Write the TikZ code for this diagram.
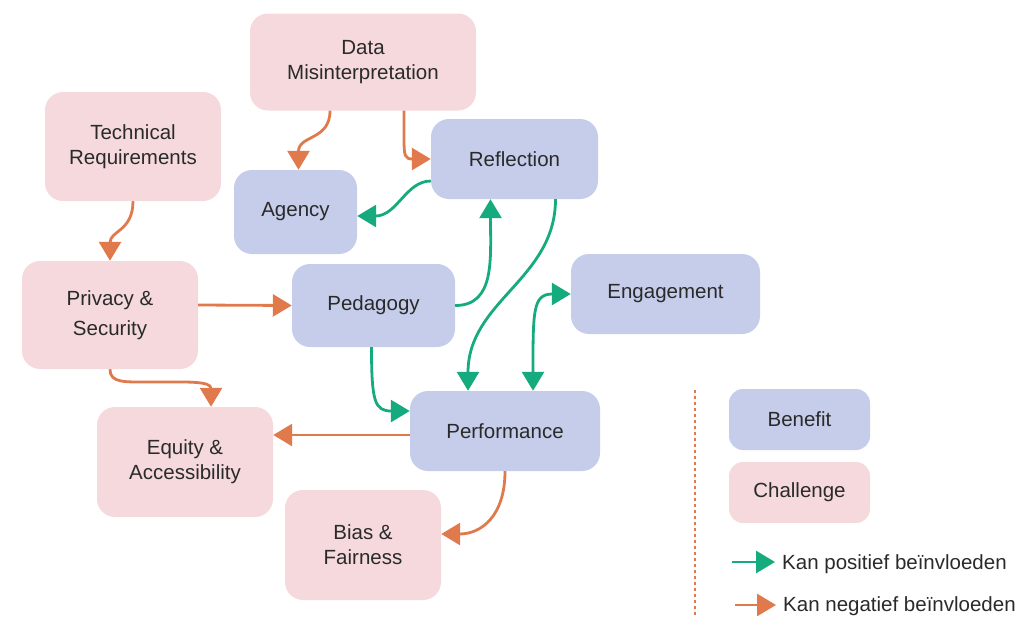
\documentclass[tikz,border=0pt]{standalone}
\usepackage{fontspec}
\setmainfont{Liberation Sans}
\usetikzlibrary{arrows.meta}
\definecolor{benefitblue}{HTML}{C5CDEA}
\definecolor{challengepink}{HTML}{F5D9DC}
\definecolor{negorange}{HTML}{E07A4C}
\definecolor{posgreen}{HTML}{15AB7E}
\definecolor{textgray}{HTML}{2A2A2A}

\begin{document}
\begin{tikzpicture}[x=1pt,y=-1pt,
        >={Triangle[length=19pt,width=22pt]},
        box/.style={rounded corners=18pt,align=center,text=textgray,inner sep=0pt,
            font=\fontsize{20.5}{25}\selectfont},
        benefit/.style={box,fill=benefitblue},
        challenge/.style={box,fill=challengepink},
        posarrow/.style={->,line width=2.8pt,color=posgreen},
        negarrow/.style={->,line width=2.8pt,color=negorange}]
\useasboundingbox (0,0) rectangle (1019,616);

\node[challenge,minimum width=226pt,minimum height=97pt] (dm) at (363,62) {Data\\Misinterpretation};
\node[challenge,minimum width=176pt,minimum height=109pt] (tr) at (133,146.5) {Technical\\Requirements};
\node[benefit,minimum width=123pt,minimum height=84pt] (ag) at (295.5,212) {Agency};
\node[benefit,minimum width=167pt,minimum height=80pt] (rf) at (514.5,159) {Reflection};
\node[challenge,minimum width=176pt,minimum height=108pt] (pv) at (110,315) {Privacy \&\\[5pt]Security};
\node[benefit,minimum width=163pt,minimum height=83pt] (pg) at (373.5,305.5) {Pedagogy};
\node[benefit,minimum width=189pt,minimum height=80pt] (en) at (665.5,294) {Engagement};
\node[challenge,minimum width=176pt,minimum height=110pt] (eq) at (185,462) {Equity \&\\Accessibility};
\node[benefit,minimum width=190pt,minimum height=80pt] (pf) at (505,431) {Performance};
\node[challenge,minimum width=156pt,minimum height=110pt] (bf) at (363,545) {Bias \&\\Fairness};

% legend
\draw[negorange,line width=1.6pt,dash pattern=on 2.5pt off 3.5pt] (695,390) -- (695,616);
\node[benefit,minimum width=141pt,minimum height=61pt,rounded corners=14pt] (lb) at (799.5,419.5) {Benefit};
\node[challenge,minimum width=141pt,minimum height=61pt,rounded corners=14pt] (lc) at (799.5,492.5) {Challenge};
\node[anchor=west,text=textgray,inner xsep=7pt,font=\fontsize{20.5}{25}\selectfont] (lpos) at (775,564) {Kan positief beïnvloeden};
\node[anchor=west,text=textgray,inner xsep=7pt,font=\fontsize{20.5}{25}\selectfont] (lneg) at (776,606) {Kan negatief beïnvloeden};
\coordinate (lposstart) at (732,562);
\coordinate (lnegstart) at (735,605);
\draw[posarrow] (lposstart) -- (lpos.west |- lposstart);
\draw[negarrow] (lnegstart) -- (lneg.west |- lnegstart);

% connectors
\draw[negarrow] ([xshift=-33pt]dm.south) .. controls +(0,30) and +(0,-35) .. ([xshift=3pt]ag.north);
\draw[negarrow] ([xshift=41pt]dm.south) -- ++(0,28) .. controls +(0,17) and +(-26,0) .. (rf.west);
\draw[posarrow] ([yshift=-22pt]rf.west) .. controls +(-25,0) and +(40,0) .. ([yshift=-4pt]ag.east);
\draw[posarrow] (pg.east) .. controls +(40,0) and +(0,60) .. ([xshift=-24pt]rf.south);
\draw[posarrow] ([xshift=41pt]rf.south) .. controls +(0,80) and +(0,-90) .. ([xshift=-37pt]pf.north);
\draw[posarrow,<->] (en.west) .. controls +(-38,0) and +(0,-80) .. ([xshift=28pt]pf.north);
\draw[posarrow] ([xshift=-2pt]pg.south) .. controls +(0,55) and +(-35,0) .. ([yshift=20pt]pf.west);
\draw[negarrow] (tr.south) .. controls +(0,30) and +(0,-30) .. (pv.north);
\draw[negarrow] ([yshift=10pt]pv.east) -- (pg.west);
\coordinate (pvbend) at (152,382);
\draw[negarrow] (pv.south) .. controls +(0,14) and +(-28,0) .. (pvbend) .. controls +(35,0) and +(0,-26) .. ([xshift=26pt]eq.north);
\draw[negarrow] ([yshift=-4pt]pf.west) -- ([yshift=27pt]eq.east);
\draw[negarrow] (pf.south) .. controls +(0,45) and +(40,0) .. ([yshift=11pt]bf.east);
\end{tikzpicture}
\end{document}
